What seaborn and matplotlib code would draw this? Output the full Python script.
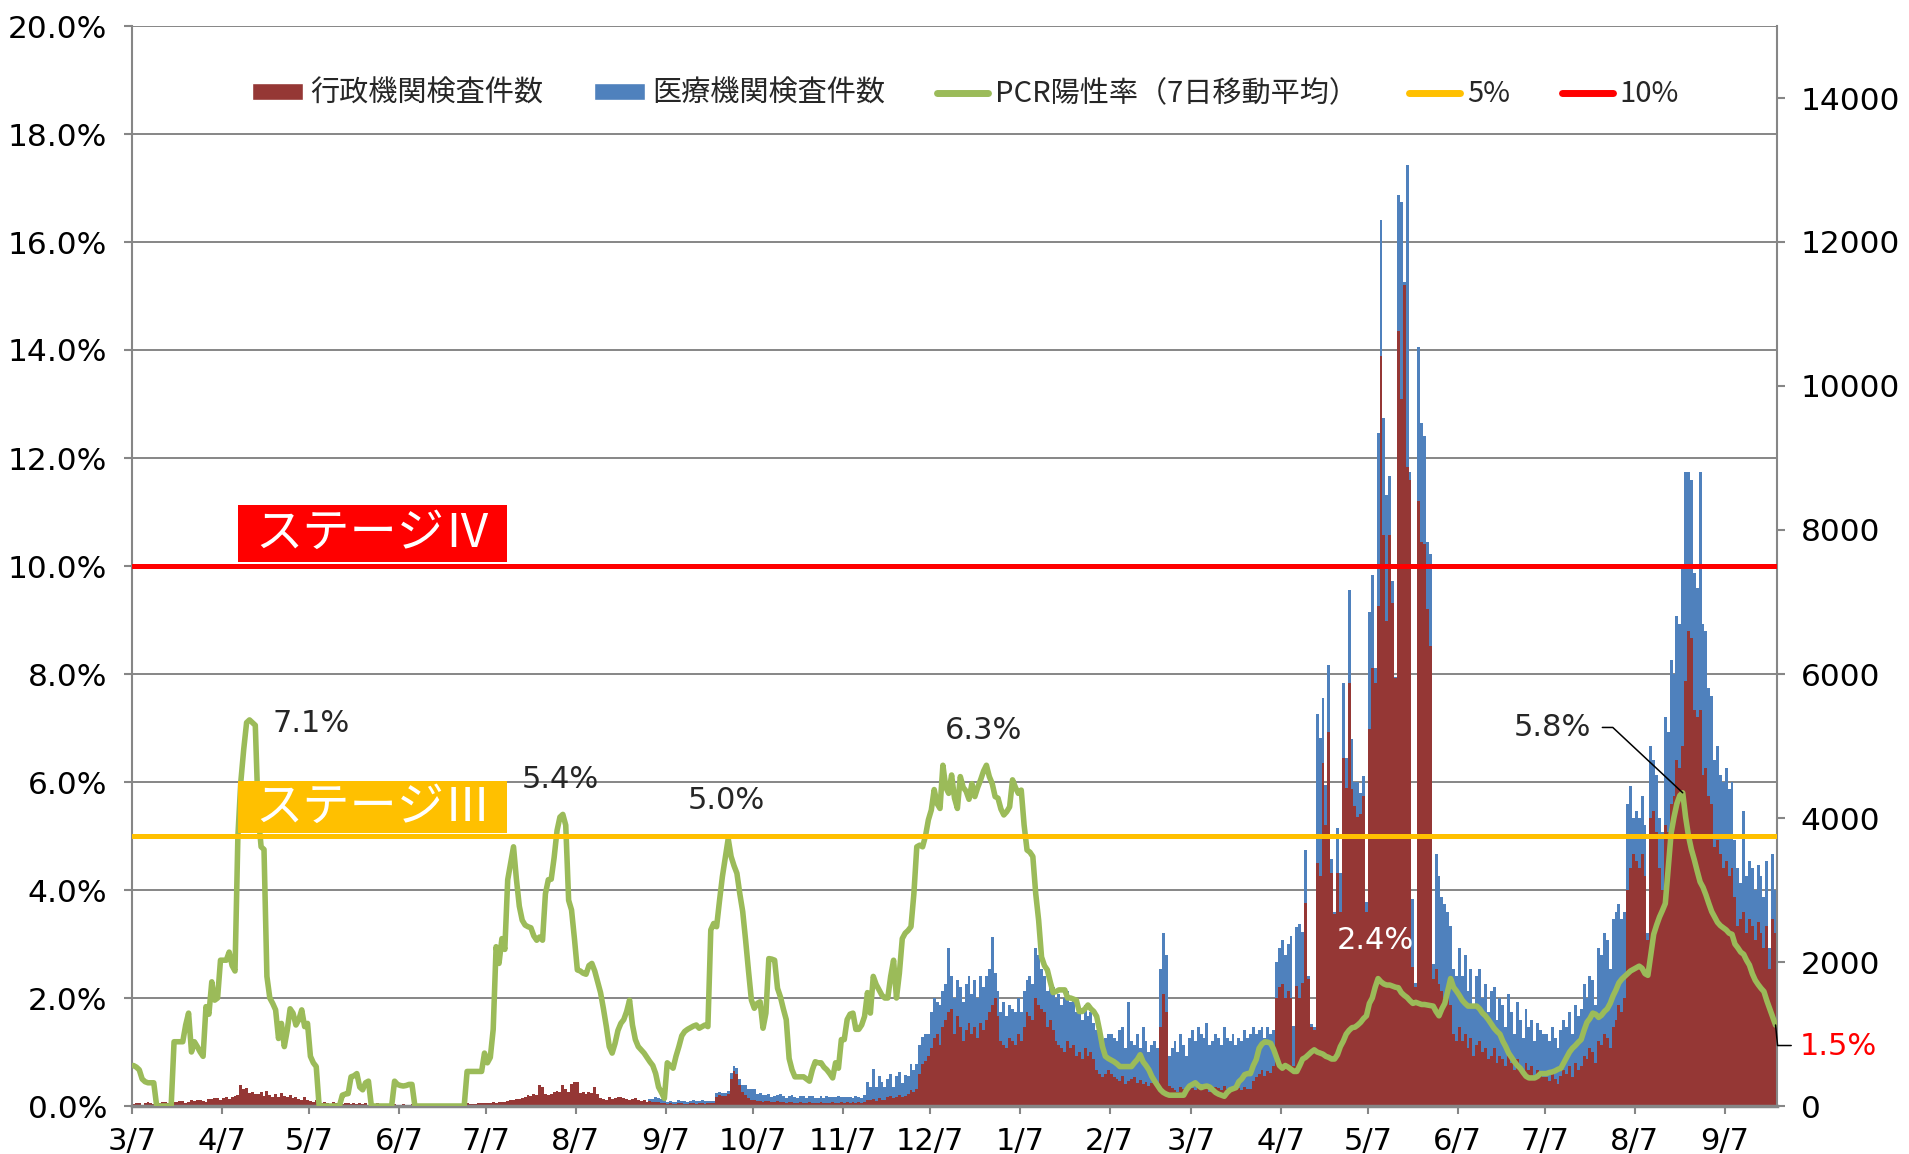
import numpy as np
import pandas as pd
import matplotlib
matplotlib.use("Agg")
import matplotlib.pyplot as plt
from matplotlib.patches import Patch, Rectangle
from matplotlib.lines import Line2D
from matplotlib.ticker import MultipleLocator, FuncFormatter
from matplotlib.font_manager import FontProperties
import seaborn as sns

START_DATE = "2020-03-07"
tick_labels = ["3/7", "4/7", "5/7", "6/7", "7/7", "8/7", "9/7", "10/7", "11/7", "12/7",
               "1/7", "2/7", "3/7", "4/7", "5/7", "6/7", "7/7", "8/7", "9/7"]
legend_labels = ["行政機関検査件数", "医療機関検査件数", "PCR陽性率（7日移動平均）", "5%", "10%"]

# ---- daily values, month by month (7th .. 6th) ----
# admin = 行政機関検査件数, total = top of stacked bar (行政 + 医療), rate = PCR陽性率 (%)
admin_a = [30,40,35,20,45,50,40,30,25,45,50,55,40,35,60,55,65,70,45,50,80,75,90,85,70,60,100,95,110,105,90]
total_a = admin_a
rate_a = [0.75,0.72,0.67,0.5,0.45,0.43,0.43,0.43,0,0,0,0,0,0,1.19,1.19,1.19,1.19,1.5,1.72,1.0,1.19,1.1,1.0,0.92,1.84,1.7,2.3,1.96,2.0,2.7]

admin_b = [110,120,100,130,140,150,290,230,250,180,200,160,170,190,140,210,150,120,160,130,180,140,120,150,110,130,100,90,120,80]
total_b = admin_b
rate_b = [2.7,2.7,2.85,2.6,2.5,5.0,6.0,6.6,7.1,7.15,7.1,7.05,5.4,4.8,4.75,2.4,2.0,1.9,1.78,1.25,1.53,1.1,1.4,1.8,1.72,1.5,1.6,1.78,1.47,1.53]

admin_c = [70,60,80,50,40,60,45,30,50,40,35,30,45,40,30,35,25,40,30,35,20,30,25,35,20,30,25,20,30,25,20]
total_c = admin_c
rate_c = [0.92,0.8,0.73,0,0,0,0,0,0,0,0,0.2,0.22,0.23,0.54,0.56,0.6,0.35,0.3,0.43,0.46,0,0,0,0,0,0,0,0,0.46,0.4]

admin_d = [20,25,15,20,30,20,15,25,20,15,20,25,15,20,20,15,25,20,15,20,25,30,25,35,30,25,30,35,40,45]
total_d = admin_d
rate_d = [0.38,0.37,0.38,0.4,0.4,0,0,0,0,0,0,0,0,0,0,0,0,0,0,0,0,0,0,0.64,0.64,0.64,0.64,0.64,0.64,0.98]

admin_e = [40,45,50,45,55,60,50,70,80,90,100,95,110,120,150,140,160,150,290,260,170,150,160,200,210,190,290,230,200,310,340]
total_e = admin_e
rate_e = [0.8,0.9,1.42,2.95,2.64,3.1,2.9,4.19,4.5,4.8,4.2,3.7,3.44,3.35,3.32,3.3,3.15,3.07,3.13,3.07,3.93,4.19,4.2,4.6,5.1,5.35,5.4,5.2,3.81,3.63,3.1]

admin_f = [330,180,190,170,200,180,270,170,110,100,90,120,100,110,130,120,110,100,90,100,110,80,70,90,60,70,50,60,55,40,45]
total_f = [330,180,190,170,200,180,270,170,110,100,90,120,100,110,130,120,110,100,90,100,110,80,70,90,60,100,100,120,105,100,85]
rate_f = [2.52,2.5,2.46,2.44,2.6,2.64,2.5,2.3,2.1,1.8,1.47,1.1,0.98,1.16,1.4,1.53,1.6,1.75,1.96,1.5,1.23,1.1,1.04,0.98,0.9,0.82,0.75,0.6,0.35,0.25,0.14]

admin_g = [30,35,25,30,40,35,30,25,35,40,30,35,40,30,35,40,35,130,150,140,140,160,370,480,450,290,200,150,110,90]
total_g = [60,75,60,60,85,75,65,55,75,85,65,65,80,65,75,70,70,180,190,185,180,210,460,550,530,370,290,290,240,230]
rate_g = [0.8,0.75,0.7,0.92,1.1,1.3,1.38,1.42,1.45,1.48,1.5,1.44,1.47,1.5,1.47,3.26,3.38,3.32,3.8,4.25,4.6,4.95,4.62,4.45,4.31,3.93,3.6,3.07,2.5,1.96]

admin_h = [80,70,75,60,70,65,60,55,70,60,50,45,55,50,45,40,50,45,40,50,45,40,35,50,45,40,45,50,40,45,50]
total_h = [230,170,185,150,150,165,130,145,150,170,140,115,135,150,130,110,140,140,110,135,145,115,115,140,115,135,130,130,130,145,125]
rate_h = [1.81,1.9,1.93,1.44,1.72,2.73,2.72,2.7,2.18,2.02,1.8,1.6,0.88,0.67,0.54,0.54,0.54,0.54,0.5,0.46,0.67,0.82,0.8,0.8,0.72,0.67,0.6,0.52,0.8,0.7,1.23]

admin_i = [45,50,40,55,45,50,40,60,90,80,100,70,110,90,80,120,140,110,130,150,120,140,160,220,200,240,450,590,620,700]
total_i = [130,120,130,115,145,130,110,150,340,260,520,270,410,340,260,380,440,260,410,470,320,430,420,590,500,590,850,960,1000,1000]
rate_i = [1.23,1.6,1.7,1.72,1.42,1.42,1.5,1.66,2.1,1.72,2.4,2.25,2.15,2.05,2.0,2.0,2.4,2.7,2.0,2.46,3.1,3.2,3.25,3.32,3.93,4.8,4.83,4.8,5.0,5.3]

admin_j = [800,950,1000,850,1100,1200,1300,1350,1000,1250,1100,900,1050,1150,1000,1100,950,1150,1050,1200,1300,1400,1500,1250,900,850,800,950,900,850,1000]
total_j = [1300,1500,1450,1400,1600,1700,2200,1800,1500,1750,1650,1450,1700,1800,1550,1750,1500,1800,1650,1800,1900,2350,1850,1600,1300,1450,1250,1400,1350,1300,1500]
rate_j = [5.48,5.86,5.6,5.51,6.31,5.9,5.79,6.13,5.7,5.51,6.1,5.9,5.83,5.68,5.97,5.73,5.9,6.04,6.2,6.31,6.1,5.97,5.73,5.7,5.5,5.39,5.45,5.54,6.04,5.9,5.79]

admin_k = [900,1100,1300,1250,1200,1500,1400,1350,1300,1100,1200,1050,900,850,800,750,900,800,850,700,750,650,800,700,750,650,500,450,400,450,500]
total_k = [1300,1600,1750,1800,1700,2200,2100,1900,1800,1600,1700,1650,1500,1550,1400,1500,1600,1450,1500,1300,1350,1200,1400,1250,1300,1150,1050,1000,900,950,1000]
rate_k = [5.85,5.2,4.74,4.7,4.62,3.93,3.44,2.76,2.6,2.52,2.3,2.1,2.12,2.15,2.15,2.15,2.0,2.0,1.98,1.96,1.75,1.75,1.8,1.87,1.8,1.75,1.66,1.4,1.1,0.92,0.88]

admin_l = [450,400,380,350,420,300,350,380,400,320,360,300,340,280,320,350,300,1100,1550,1300,280,250,220,200,260,230,200,250]
total_l = [1000,950,900,1050,1100,800,1450,900,850,1000,800,1100,900,750,850,900,800,1900,2400,2100,700,800,900,750,1000,850,700,950]
rate_l = [0.85,0.82,0.78,0.73,0.73,0.73,0.73,0.73,0.8,0.86,0.95,0.82,0.75,0.67,0.55,0.46,0.38,0.3,0.25,0.22,0.2,0.2,0.2,0.2,0.2,0.2,0.3,0.37]

admin_m = [250,220,280,240,260,300,200,230,270,250,220,280,240,210,260,230,250,220,270,240,230,350,400,450,500,420,480,460,550,1500,1650]
total_m = [1050,900,1100,1000,950,1150,850,900,1000,950,850,1100,950,900,1000,850,950,900,1050,950,1000,1100,1000,1050,1100,950,1100,1000,1050,2000,2200]
rate_m = [0.4,0.43,0.38,0.34,0.36,0.37,0.35,0.3,0.25,0.22,0.2,0.18,0.25,0.3,0.32,0.34,0.45,0.5,0.58,0.6,0.6,0.75,0.86,1.07,1.15,1.19,1.18,1.16,1.05,0.9,0.75]

admin_n = [1700,1500,1600,1500,550,1670,1500,1710,2820,1760,1100,1050,3370,3200,4760,3900,5190,3230,2660,3240,2700,4840,4420,5870,4400,4160,4020,4050,4300,2700]
total_n = [2300,2100,2250,2360,1110,2490,2530,2410,3560,1800,1140,1100,5450,5110,5660,4460,6130,3430,2700,3860,3240,5870,4840,7160,5100,4500,4500,4350,4580,2830]
rate_n = [0.7,0.75,0.72,0.68,0.64,0.64,0.75,0.87,0.9,0.95,1.0,1.04,1.0,0.98,0.96,0.92,0.9,0.87,0.87,0.95,1.1,1.2,1.33,1.4,1.45,1.46,1.5,1.55,1.62,1.67]

admin_o = [5230,6090,5870,6940,10420,7930,6730,7930,6980,5950,10760,9820,11400,8870,8700,1930,1650,8400,7840,7800,6900,6390,1760,1900,1700,1600,1500,1600,1400,1000,900]
total_o = [6860,7370,6090,9350,12300,9560,8490,8750,7290,5960,12650,12550,11450,13070,8800,2870,1710,10540,9480,9310,7830,7670,1970,3500,3200,2900,2800,2700,2500,1900,1800]
rate_o = [1.9,2.0,2.2,2.36,2.3,2.26,2.24,2.24,2.22,2.2,2.19,2.1,2.05,2.01,1.95,1.9,1.92,1.9,1.88,1.88,1.87,1.86,1.85,1.75,1.67,1.8,1.9,2.13,2.36,2.2,2.13]

admin_p = [1100,900,1000,800,950,700,850,900,750,800,650,700,800,600,700,650,550,700,600,500,650,550,450,600,500,550,400,500,450,400]
total_p = [2200,1800,2100,1600,1900,1400,1800,1900,1500,1700,1300,1600,1650,1200,1500,1400,1100,1550,1300,1000,1450,1200,950,1350,1100,1200,900,1150,1050,1000]
rate_p = [2.05,1.96,1.9,1.85,1.85,1.85,1.85,1.8,1.72,1.67,1.6,1.52,1.44,1.38,1.33,1.2,1.1,0.98,0.9,0.82,0.75,0.7,0.62,0.55,0.52,0.52,0.52,0.55,0.6,0.6]

admin_q = [400,350,450,380,300,420,500,450,550,400,600,500,550,700,650,800,750,600,900,850,1000,950,800,1100,1200,1400,1300,1500,3000,3300,3500]
total_q = [1000,900,1100,950,800,1050,1200,1100,1300,1000,1400,1250,1350,1700,1500,1800,1750,1400,2200,2100,2400,2300,1900,2600,2700,2800,2600,2700,4200,4450,4000]
rate_q = [0.6,0.62,0.63,0.65,0.68,0.7,0.8,0.9,1.0,1.07,1.12,1.18,1.23,1.4,1.55,1.62,1.72,1.7,1.64,1.68,1.75,1.8,1.9,2.04,2.15,2.28,2.35,2.4,2.45,2.5,2.53]

admin_r = [3400,3300,3500,3200,2300,4000,4100,3800,3300,3000,3900,3800,4200,4300,4800,4700,5000,5900,6600,6500,5500,5400,5500,4600,4700,4300,4200,3600,3700,3500,3300]
total_r = [4100,4000,4300,3900,2400,5000,4800,4600,4000,3800,5400,5200,6200,6000,6800,6700,7500,8800,8800,8700,7400,7200,8800,6700,6600,5800,5700,4800,5000,4600,4500]
rate_r = [2.56,2.59,2.55,2.45,2.42,2.8,3.18,3.35,3.5,3.62,3.75,4.4,5.05,5.35,5.6,5.75,5.8,5.35,5.0,4.75,4.56,4.35,4.15,4.05,3.91,3.75,3.6,3.5,3.4,3.34,3.3]

admin_s = [3400,3200,3300,2900,2500,2600,2700,2400,2600,2500,2300,2550,2400,2200,2500,1900,2600,2400]
total_s = [4700,4400,4500,3700,3300,3100,4100,3200,3400,3300,3000,3350,3200,2900,3400,2200,3500,3000]
rate_s = [3.26,3.2,3.18,3.0,2.93,2.85,2.81,2.7,2.61,2.45,2.33,2.25,2.18,2.12,1.95,1.8,1.65,1.5]

segments = [
    (admin_a, total_a, rate_a), (admin_b, total_b, rate_b), (admin_c, total_c, rate_c),
    (admin_d, total_d, rate_d), (admin_e, total_e, rate_e), (admin_f, total_f, rate_f),
    (admin_g, total_g, rate_g), (admin_h, total_h, rate_h), (admin_i, total_i, rate_i),
    (admin_j, total_j, rate_j), (admin_k, total_k, rate_k), (admin_l, total_l, rate_l),
    (admin_m, total_m, rate_m), (admin_n, total_n, rate_n), (admin_o, total_o, rate_o),
    (admin_p, total_p, rate_p), (admin_q, total_q, rate_q), (admin_r, total_r, rate_r),
    (admin_s, total_s, rate_s),
]
for k, (a, t, r) in enumerate(segments):
    if not (len(a) == len(t) == len(r)):
        raise ValueError(f"segment {k}: {len(a)} {len(t)} {len(r)}")

admin = [v for s in segments for v in s[0]]
total = [v for s in segments for v in s[1]]
rate = [v for s in segments for v in s[2]]
n = len(admin)

df = pd.DataFrame({
    "day": np.arange(n) + 0.5,
    "admin": admin,
    "medical": np.array(total) - np.array(admin),
    "rate": np.array(rate) / 100.0,
})
df["stack_top"] = df["admin"] + df["medical"]

start = pd.Timestamp(START_DATE)
tick_pos = [(start + pd.DateOffset(months=i) - start).days for i in range(len(tick_labels))]

ADMIN_C = "#953735"
MED_C = "#4F81BD"
RATE_C = "#9BBB59"
ST3_C = "#FFC000"
ST4_C = "#FF0000"
GRID_C = "#868686"

sns.set_theme(style="white")
plt.rcParams["font.family"] = ["DejaVu Sans", "Noto Sans CJK JP"]
CJK = ["Noto Sans CJK JP", "DejaVu Sans"]

W, H = 1909, 1154
fig = plt.figure(figsize=(W / 100, H / 100), dpi=100)
fig.patch.set_facecolor("white")
ax = fig.add_axes([132 / W, 48 / H, 1645 / W, 1080 / H])
ax2 = ax.twinx()

sns.barplot(data=df, x="day", y="stack_top", native_scale=True, width=1.0, color=MED_C,
            saturation=1, linewidth=0, errorbar=None, ax=ax)
sns.barplot(data=df, x="day", y="admin", native_scale=True, width=1.0, color=ADMIN_C,
            saturation=1, linewidth=0, errorbar=None, ax=ax)

ax.set_xlim(0, n)
ax.set_ylim(0, 15000)
ax.set_xlabel("")
ax.set_ylabel("")

# right axis (counts)
ax.yaxis.tick_right()
ax.set_yticks(np.arange(0, 14001, 2000))
ax.yaxis.set_major_formatter(FuncFormatter(lambda v, p: f"{int(v)}"))
ax.yaxis.set_minor_locator(MultipleLocator(1500))
ax.yaxis.remove_overlapping_locs = False
ax.tick_params(axis="y", which="major", right=True, left=False, labelright=True, labelleft=False,
               direction="out", length=6, width=1.5, color=GRID_C, labelsize=22.5, pad=11,
               labelcolor="black")
ax.tick_params(axis="y", which="minor", length=0, left=False, right=False)
ax.grid(False)
ax.grid(True, axis="y", which="minor", color=GRID_C, linewidth=1.4)
ax.set_axisbelow(True)

ax.set_xticks(tick_pos)
ax.set_xticklabels(tick_labels)
ax.tick_params(axis="x", bottom=True, direction="out", length=6, width=1.5, color=GRID_C,
               labelsize=22, pad=9, labelcolor="black")

for side in ["left", "right"]:
    ax.spines[side].set_color(GRID_C)
    ax.spines[side].set_linewidth(1.5)
ax.spines["bottom"].set_color(GRID_C)
ax.spines["bottom"].set_linewidth(2.5)
ax.spines["top"].set_visible(False)

# left axis (positivity)
for s in ax2.spines.values():
    s.set_visible(False)
sns.lineplot(data=df, x="day", y="rate", color=RATE_C, linewidth=4, ax=ax2, zorder=3)
ax2.axhline(0.05, color=ST3_C, linewidth=3.6, zorder=4)
ax2.axhline(0.10, color=ST4_C, linewidth=3.6, zorder=4)
ax2.set_xlim(0, n)
ax2.set_ylim(0, 0.20)
ax2.set_ylabel("")
ax2.set_xlabel("")
ax2.yaxis.tick_left()
ax2.set_yticks(np.arange(0, 0.2001, 0.02))
ax2.yaxis.set_major_formatter(FuncFormatter(lambda v, p: f"{v * 100:.1f}%"))
ax2.tick_params(axis="y", left=True, right=False, labelleft=True, labelright=False,
                direction="out", length=6, width=1.5, color=GRID_C, labelsize=22.5, pad=12,
                labelcolor="black")

# stage boxes
box_x0, box_w = 36.7, 92.7
ax2.add_patch(Rectangle((box_x0, 0.1008), box_w, 0.0105, facecolor=ST4_C, edgecolor="none", zorder=6))
ax2.text(box_x0 + box_w / 2, 0.1008 + 0.0105 / 2, "ステージⅣ", color="white", fontsize=34,
         ha="center", va="center", zorder=7, family=CJK)
ax2.add_patch(Rectangle((box_x0, 0.0505), box_w, 0.0096, facecolor=ST3_C, edgecolor="none", zorder=6))
ax2.text(box_x0 + box_w / 2, 0.0505 + 0.0096 / 2, "ステージⅢ", color="white", fontsize=34,
         ha="center", va="center", zorder=7, family=CJK)

# peak labels
ax2.text(48.3, 0.0708, "7.1%", fontsize=22, ha="left", va="center", zorder=8)
ax2.text(134.4, 0.0604, "5.4%", fontsize=22, ha="left", va="center", zorder=8)
ax2.text(191.4, 0.0566, "5.0%", fontsize=22, ha="left", va="center", zorder=8)
ax2.text(280.2, 0.0696, "6.3%", fontsize=22, ha="left", va="center", zorder=8)
ax2.text(415.2, 0.0307, "2.4%", fontsize=22, ha="left", va="center", color="white", zorder=8)
ax2.text(476.1, 0.0700, "5.8%", fontsize=22, ha="left", va="center", zorder=8)
ax2.text(574.7, 0.0111, "1.5%", fontsize=22, ha="left", va="center", color=ST4_C, zorder=8)

# leader lines
late = df[df["day"] > 500]
pk = late["rate"].idxmax()
ax2.plot([506.8, 510.4, df.loc[pk, "day"]], [0.0701, 0.0701, df.loc[pk, "rate"]],
         color="black", linewidth=1.1, zorder=8)
ax2.plot([df["day"].iloc[-1], 567.2, 571.9], [df["rate"].iloc[-1], 0.0112, 0.0112],
         color="black", linewidth=1.1, zorder=8, clip_on=False)

# legend
handles = [Patch(facecolor=ADMIN_C), Patch(facecolor=MED_C),
           Line2D([], [], color=RATE_C, linewidth=5), Line2D([], [], color=ST3_C, linewidth=5),
           Line2D([], [], color=ST4_C, linewidth=5)]
ax2.legend(handles, legend_labels, loc="center left", bbox_to_anchor=(252 / W, 1 - 94 / H),
           bbox_transform=fig.transFigure, ncol=5, frameon=False,
           prop=FontProperties(family=CJK, size=21), handlelength=1.75, handleheight=0.5,
           handletextpad=0.25, columnspacing=1.75, borderpad=0, borderaxespad=0)

fig.savefig("out.png", dpi=100)
